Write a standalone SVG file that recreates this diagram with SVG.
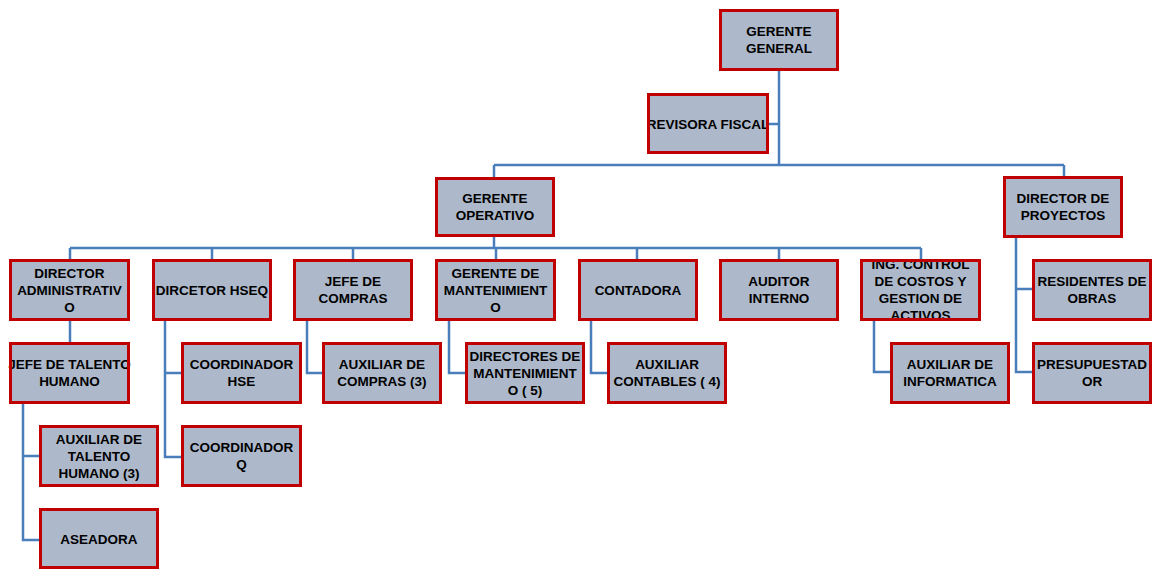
<svg xmlns="http://www.w3.org/2000/svg" width="1152" height="569" viewBox="0 0 1152 569">
  <style>
    .bg { fill: #ADB9CA; }
    .bd { fill: none; stroke: #C00000; stroke-width: 3; }
    .t { font-family: "Liberation Sans", Arial, sans-serif; font-weight: bold; font-size: 13.5px; fill: #000; text-anchor: middle; }
    .wire { fill: none; stroke: #4A7EBB; stroke-width: 2.5; }
  </style>
  <rect width="1152" height="569" fill="#ffffff"/>

  <!-- connectors -->
  <g id="connectors" class="wire">
    <path d="M779,71 V165"/>
    <path d="M769,124 H779"/>
    <path d="M494,165 H1064"/>
    <path d="M494,165 V177"/>
    <path d="M1064,165 V176"/>
    <path d="M494,237 V248"/>
    <path d="M70,248 H921"/>
    <path d="M70,248 V259 M212,248 V259 M353,248 V259 M496,248 V259 M637,248 V259 M779,248 V259 M921,248 V259"/>
    <path d="M70,321 V342"/>
    <path d="M23,404 V540 H39 M23,456 H39"/>
    <path d="M165,321 V457 H181 M165,373 H181"/>
    <path d="M307,321 V373 H322"/>
    <path d="M449,321 V373 H465"/>
    <path d="M591,321 V373 H607"/>
    <path d="M874,321 V372 H890"/>
    <path d="M1016,238 V372 H1032 M1016,289 H1032"/>
  </g>

  <!-- nodes: fill, label, then frame on top -->
  <g id="gerente-general">
    <rect class="bg" x="720.5" y="10.5" width="117" height="59"/>
    <text class="t" x="779" y="36">GERENTE</text>
    <text class="t" x="779" y="53">GENERAL</text>
    <rect class="bd" x="720.5" y="10.5" width="117" height="59"/>
  </g>
  <g id="revisora-fiscal">
    <rect class="bg" x="648.5" y="94.5" width="119" height="58"/>
    <text class="t" x="708" y="129">REVISORA FISCAL</text>
    <rect class="bd" x="648.5" y="94.5" width="119" height="58"/>
  </g>
  <g id="gerente-operativo">
    <rect class="bg" x="436.5" y="178.5" width="117" height="57"/>
    <text class="t" x="495" y="203">GERENTE</text>
    <text class="t" x="495" y="220">OPERATIVO</text>
    <rect class="bd" x="436.5" y="178.5" width="117" height="57"/>
  </g>
  <g id="director-proyectos">
    <rect class="bg" x="1004.5" y="177.5" width="117" height="59"/>
    <text class="t" x="1063" y="203">DIRECTOR DE</text>
    <text class="t" x="1063" y="220">PROYECTOS</text>
    <rect class="bd" x="1004.5" y="177.5" width="117" height="59"/>
  </g>

  <g id="director-administrativo">
    <rect class="bg" x="10.5" y="260.5" width="118" height="59"/>
    <text class="t" x="69.5" y="278">DIRECTOR</text>
    <text class="t" x="69.5" y="295">ADMINISTRATIV</text>
    <text class="t" x="69.5" y="312">O</text>
    <rect class="bd" x="10.5" y="260.5" width="118" height="59"/>
  </g>
  <g id="director-hseq">
    <rect class="bg" x="153.5" y="260.5" width="117" height="59"/>
    <text class="t" x="212" y="295">DIRCETOR HSEQ</text>
    <rect class="bd" x="153.5" y="260.5" width="117" height="59"/>
  </g>
  <g id="jefe-compras">
    <rect class="bg" x="294.5" y="260.5" width="117" height="59"/>
    <text class="t" x="353" y="286">JEFE DE</text>
    <text class="t" x="353" y="303">COMPRAS</text>
    <rect class="bd" x="294.5" y="260.5" width="117" height="59"/>
  </g>
  <g id="gerente-mantenimiento">
    <rect class="bg" x="436.5" y="260.5" width="118" height="59"/>
    <text class="t" x="495.5" y="278">GERENTE DE</text>
    <text class="t" x="495.5" y="295">MANTENIMIENT</text>
    <text class="t" x="495.5" y="312">O</text>
    <rect class="bd" x="436.5" y="260.5" width="118" height="59"/>
  </g>
  <g id="contadora">
    <rect class="bg" x="579.5" y="260.5" width="117" height="59"/>
    <text class="t" x="638" y="295">CONTADORA</text>
    <rect class="bd" x="579.5" y="260.5" width="117" height="59"/>
  </g>
  <g id="auditor-interno">
    <rect class="bg" x="720.5" y="260.5" width="117" height="59"/>
    <text class="t" x="779" y="286">AUDITOR</text>
    <text class="t" x="779" y="303">INTERNO</text>
    <rect class="bd" x="720.5" y="260.5" width="117" height="59"/>
  </g>
  <g id="ing-control-costos">
    <rect class="bg" x="861.5" y="260.5" width="118" height="59"/>
    <text class="t" x="920.5" y="269">ING. CONTROL</text>
    <text class="t" x="920.5" y="286">DE COSTOS Y</text>
    <text class="t" x="920.5" y="303">GESTION DE</text>
    <text class="t" x="920.5" y="320">ACTIVOS</text>
    <rect class="bd" x="861.5" y="260.5" width="118" height="59"/>
  </g>
  <g id="residentes-obras">
    <rect class="bg" x="1033.5" y="260.5" width="117" height="59"/>
    <text class="t" x="1092" y="286">RESIDENTES DE</text>
    <text class="t" x="1092" y="303">OBRAS</text>
    <rect class="bd" x="1033.5" y="260.5" width="117" height="59"/>
  </g>

  <g id="jefe-talento-humano">
    <rect class="bg" x="10.5" y="343.5" width="118" height="59"/>
    <text class="t" x="69.5" y="369">JEFE DE TALENTO</text>
    <text class="t" x="69.5" y="386">HUMANO</text>
    <rect class="bd" x="10.5" y="343.5" width="118" height="59"/>
  </g>
  <g id="coordinador-hse">
    <rect class="bg" x="182.5" y="343.5" width="118" height="59"/>
    <text class="t" x="241.5" y="369">COORDINADOR</text>
    <text class="t" x="241.5" y="386">HSE</text>
    <rect class="bd" x="182.5" y="343.5" width="118" height="59"/>
  </g>
  <g id="auxiliar-compras">
    <rect class="bg" x="323.5" y="343.5" width="117" height="59"/>
    <text class="t" x="382" y="369">AUXILIAR DE</text>
    <text class="t" x="382" y="386">COMPRAS (3)</text>
    <rect class="bd" x="323.5" y="343.5" width="117" height="59"/>
  </g>
  <g id="directores-mantenimiento">
    <rect class="bg" x="466.5" y="343.5" width="117" height="59"/>
    <text class="t" x="525" y="361">DIRECTORES DE</text>
    <text class="t" x="525" y="378">MANTENIMIENT</text>
    <text class="t" x="525" y="395">O ( 5)</text>
    <rect class="bd" x="466.5" y="343.5" width="117" height="59"/>
  </g>
  <g id="auxiliar-contables">
    <rect class="bg" x="608.5" y="343.5" width="117" height="59"/>
    <text class="t" x="667" y="369">AUXILIAR</text>
    <text class="t" x="667" y="386">CONTABLES ( 4)</text>
    <rect class="bd" x="608.5" y="343.5" width="117" height="59"/>
  </g>
  <g id="auxiliar-informatica">
    <rect class="bg" x="891.5" y="343.5" width="117" height="59"/>
    <text class="t" x="950" y="369">AUXILIAR DE</text>
    <text class="t" x="950" y="386">INFORMATICA</text>
    <rect class="bd" x="891.5" y="343.5" width="117" height="59"/>
  </g>
  <g id="presupuestador">
    <rect class="bg" x="1033.5" y="343.5" width="117" height="59"/>
    <text class="t" x="1092" y="369">PRESUPUESTAD</text>
    <text class="t" x="1092" y="386">OR</text>
    <rect class="bd" x="1033.5" y="343.5" width="117" height="59"/>
  </g>

  <g id="auxiliar-talento-humano">
    <rect class="bg" x="40.5" y="426.5" width="117" height="59"/>
    <text class="t" x="99" y="444">AUXILIAR DE</text>
    <text class="t" x="99" y="461">TALENTO</text>
    <text class="t" x="99" y="478">HUMANO (3)</text>
    <rect class="bd" x="40.5" y="426.5" width="117" height="59"/>
  </g>
  <g id="coordinador-q">
    <rect class="bg" x="182.5" y="426.5" width="118" height="59"/>
    <text class="t" x="241.5" y="452">COORDINADOR</text>
    <text class="t" x="241.5" y="469">Q</text>
    <rect class="bd" x="182.5" y="426.5" width="118" height="59"/>
  </g>
  <g id="aseadora">
    <rect class="bg" x="40.5" y="509.5" width="117" height="58"/>
    <text class="t" x="99" y="544">ASEADORA</text>
    <rect class="bd" x="40.5" y="509.5" width="117" height="58"/>
  </g>
</svg>
